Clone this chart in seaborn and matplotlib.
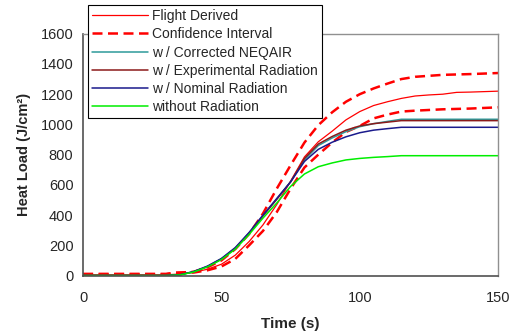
import numpy as np
import pandas as pd
import matplotlib
matplotlib.use("Agg")
import matplotlib.pyplot as plt
import seaborn as sns

# ---- data ----
t_flight = [0, 30, 35, 40, 45, 50, 55, 60, 65, 70, 75, 80, 85, 90, 95, 100, 105, 110, 115, 120, 125, 130, 135, 140, 150]
flight_derived = [5, 5, 10, 22, 42, 75, 135, 225, 335, 470, 625, 785, 885, 955, 1030, 1085, 1125, 1150, 1172, 1188, 1195, 1200, 1212, 1214, 1220]

t_ci = [0, 30, 33, 40, 45, 50, 55, 60, 65, 70, 75, 80, 85, 90, 95, 100, 105, 110, 115, 120, 130, 140, 150]
ci_upper = [10, 10, 18, 25, 55, 100, 175, 275, 410, 575, 730, 880, 995, 1080, 1150, 1200, 1238, 1270, 1300, 1315, 1328, 1333, 1340]
ci_lower = [10, 10, 18, 20, 35, 60, 110, 200, 295, 420, 575, 715, 800, 880, 950, 990, 1040, 1065, 1085, 1091, 1100, 1105, 1113]

t_model = [0, 30, 35, 40, 45, 50, 55, 60, 65, 70, 75, 80, 85, 90, 95, 100, 105, 110, 115, 150]
corrected_neqair = [0, 0, 5, 25, 60, 110, 180, 280, 395, 505, 620, 765, 860, 910, 952, 985, 1005, 1020, 1034, 1034]
experimental_rad = [0, 0, 5, 25, 60, 110, 180, 280, 395, 505, 620, 775, 870, 920, 962, 990, 1005, 1015, 1025, 1025]
nominal_rad = [0, 0, 5, 27, 63, 113, 185, 285, 400, 510, 620, 755, 835, 882, 918, 945, 962, 972, 981, 981]
without_rad = [0, 0, 4, 24, 58, 106, 175, 272, 380, 480, 590, 672, 720, 745, 765, 775, 782, 787, 793, 793]

labels = ["Flight Derived", "Confidence Interval", "w / Corrected NEQAIR",
          "w / Experimental Radiation", "w / Nominal Radiation", "without Radiation"]
x_ticks = [0, 50, 100, 150]
y_ticks = [0, 200, 400, 600, 800, 1000, 1200, 1400, 1600]

sns.set_style("white")
plt.rcParams['font.family'] = ['Liberation Sans', 'DejaVu Sans']

fig = plt.figure(figsize=(5.13, 3.34), dpi=100)
ax = fig.add_axes([0.162, 0.175, 0.809, 0.724])

sns.lineplot(x=t_flight, y=flight_derived, ax=ax, color="#FF0000", lw=0.9, label=labels[0])
sns.lineplot(x=t_ci, y=ci_upper, ax=ax, color="#FF0000", lw=1.8, label=labels[1])
sns.lineplot(x=t_ci, y=ci_lower, ax=ax, color="#FF0000", lw=1.8)
sns.lineplot(x=t_model, y=corrected_neqair, ax=ax, color="#2E9A9A", lw=1.1, label=labels[2])
sns.lineplot(x=t_model, y=experimental_rad, ax=ax, color="#8B1A1A", lw=1.1, label=labels[3])
sns.lineplot(x=t_model, y=nominal_rad, ax=ax, color="#1A1A8C", lw=1.1, label=labels[4])
sns.lineplot(x=t_model, y=without_rad, ax=ax, color="#00EE00", lw=1.1, label=labels[5])

lines = ax.get_lines()
lines[1].set_dashes([4, 2.2])
lines[2].set_dashes([4, 2.2])

ax.set_xlim(0, 150)
ax.set_ylim(0, 1600)
ax.set_xticks(x_ticks)
ax.set_yticks(y_ticks)
ax.tick_params(axis='both', labelsize=10.5, length=4, width=0.8, color="#404040", direction='out', pad=3)
ax.tick_params(axis='x', pad=7)
for s in ['left', 'bottom']:
    ax.spines[s].set_color('#505050')
    ax.spines[s].set_linewidth(1.2)
for s in ['top', 'right']:
    ax.spines[s].set_color('#909090')
    ax.spines[s].set_linewidth(1.0)
ax.grid(False)

ax.set_xlabel("Time (s)", fontsize=11, fontweight='bold', labelpad=9)
ax.set_ylabel("Heat Load (J/cm\u00b2)", fontsize=10.5, fontweight='bold', labelpad=7)

handles, labs = ax.get_legend_handles_labels()
leg = ax.legend(handles, labs, loc='upper left', bbox_to_anchor=(0.172, 0.985),
                bbox_transform=fig.transFigure, fontsize=10, frameon=True, fancybox=False,
                edgecolor='black', framealpha=1.0, handlelength=4.0, handletextpad=0.3,
                labelspacing=0.3, borderpad=0.3, borderaxespad=0)
leg.get_frame().set_linewidth(0.8)

fig.savefig("out.png", dpi=100)
